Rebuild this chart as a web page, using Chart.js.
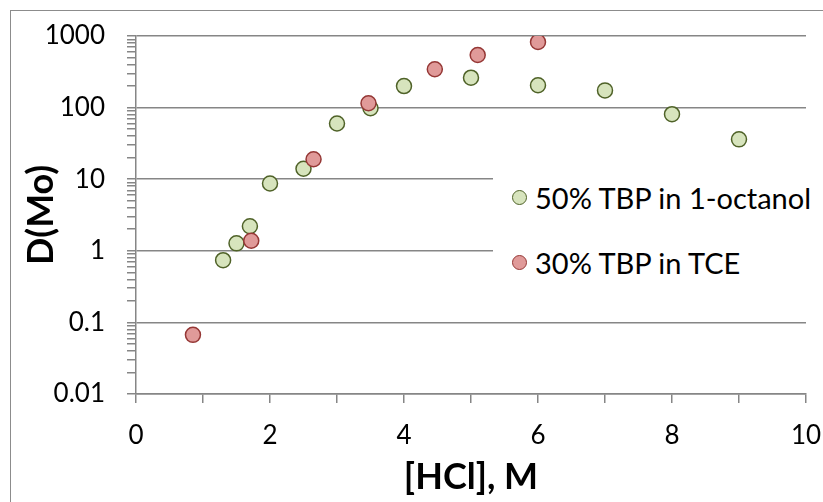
<!DOCTYPE html>
<html><head><meta charset="utf-8">
<script src="https://cdn.jsdelivr.net/npm/chart.js@4/dist/chart.umd.min.js"></script>
<style>
html,body{margin:0;padding:0;background:#fff;overflow:hidden;}
#wrap{position:relative;width:823px;height:502px;overflow:hidden;}
#frame{position:absolute;left:10px;top:10px;width:900px;height:600px;border:1.5px solid #8c8c8c;box-sizing:border-box;}
canvas{position:absolute;left:0;top:0;}
#legend{position:absolute;left:493px;top:170px;width:330px;height:115px;background:#fff;font-family:Lato,sans-serif;font-size:29px;color:#000;}
.item{position:absolute;left:0;height:34px;display:flex;align-items:center;white-space:nowrap;}
.dot{width:13px;height:13px;border-radius:50%;border:1.5px solid;margin-left:19px;margin-right:8px;}
</style></head>
<body><div id="wrap"><div id="frame"></div><canvas id="c" width="823" height="502"></canvas><div id="legend"></div></div>
<script>
// ---- data ----
const seriesNames = ['50% TBP in 1-octanol', '30% TBP in TCE'];
const hclOctanol = [1.3, 1.5, 1.7, 2.0, 2.5, 3.0, 3.5, 4.0, 5.0, 6.0, 7.0, 8.0, 9.0];
const dOctanol   = [0.74, 1.27, 2.2, 8.7, 14, 60, 98, 200, 262, 205, 174, 81, 36];
const hclTce     = [0.85, 1.72, 2.65, 3.47, 4.46, 5.1, 6.0];
const dTce       = [0.067, 1.38, 19, 115, 343, 543, 825];
const xTickLabels = ['0', '2', '4', '6', '8', '10'];
const yTickLabels = ['0.01', '0.1', '1', '10', '100', '1000'];

// ---- styles ----
const FONT = 'Lato';
const GRID = '#868686';
const colors = [
  {fill: '#d7e4bd', stroke: '#4f6228'},
  {fill: '#e09a99', stroke: '#953735'}
];

const yMajor = yTickLabels.map(Number);
const yAllTicks = [];
yMajor.forEach((m, i) => {
  if (i === yMajor.length - 1) { yAllTicks.push(m); return; }
  for (let k = 1; k <= 9; k++) yAllTicks.push(+(k * m).toPrecision(6));
});
const isMajor = v => Math.abs(Math.log10(v) - Math.round(Math.log10(v))) < 1e-9;
const xMin = Number(xTickLabels[0]), xMax = Number(xTickLabels[xTickLabels.length - 1]);

const toPts = (xs, ys) => xs.map((x, i) => ({x: x, y: ys[i]}));

Chart.defaults.font.family = FONT;
Chart.defaults.color = '#000';

new Chart(document.getElementById('c'), {
  type: 'scatter',
  data: {
    datasets: [
      {label: seriesNames[0], data: toPts(hclOctanol, dOctanol), order: 1,
       backgroundColor: colors[0].fill, borderColor: colors[0].stroke,
       pointRadius: 7.5, pointHoverRadius: 7.5, borderWidth: 1.5},
      {label: seriesNames[1], data: toPts(hclTce, dTce), order: 0,
       backgroundColor: colors[1].fill, borderColor: colors[1].stroke,
       pointRadius: 7.5, pointHoverRadius: 7.5, borderWidth: 1.5}
    ]
  },
  options: {
    responsive: false,
    animation: false,
    layout: {padding: {left: 0, top: 36, right: 17, bottom: 0}},
    plugins: {legend: {display: false}, tooltip: {enabled: false}},
    scales: {
      x: {
        type: 'linear', min: xMin, max: xMax,
        afterFit: s => { s.height = 108; s.paddingLeft = 0; s.paddingRight = 0; },
        ticks: {stepSize: 1, autoSkip: false, maxRotation: 0, padding: 17,
          font: {family: FONT, size: 26},
          callback: v => (xTickLabels.includes(String(v)) ? String(v) : '')},
        grid: {drawOnChartArea: false, drawTicks: true, tickLength: 9, color: GRID, lineWidth: 1.5},
        border: {color: GRID, width: 1.5},
        title: {display: true, text: '[HCl], M', color: '#000',
          font: {family: FONT, size: 36, weight: 'bold', lineHeight: 1},
          padding: {top: 0, bottom: 7}}
      },
      y: {
        type: 'logarithmic', min: yMajor[0], max: yMajor[yMajor.length - 1],
        afterFit: s => { s.width = 136; s.paddingTop = 0; s.paddingBottom = 0; },
        afterBuildTicks: s => { s.ticks = yAllTicks.map(v => ({value: v, major: isMajor(v)})); },
        ticks: {autoSkip: false, padding: 22, font: {family: FONT, size: 26},
          callback: v => isMajor(v) ? yTickLabels[yMajor.findIndex(m => Math.abs(m - v) < m * 1e-6)] : ''},
        grid: {drawOnChartArea: true, tickLength: 9, lineWidth: 1.5,
          color: c => (c.tick && isMajor(c.tick.value)) ? GRID : 'rgba(0,0,0,0)',
          tickColor: GRID},
        border: {color: GRID, width: 1.5},
        title: {display: true, text: 'D(Mo)', color: '#000',
          font: {family: FONT, size: 36, weight: 'bold', lineHeight: 1},
          padding: {top: 23, bottom: 0}}
      }
    }
  }
});

// ---- legend (HTML, inside the plot) ----
const legend = document.getElementById('legend');
seriesNames.forEach((name, i) => {
  const it = document.createElement('div');
  it.className = 'item';
  it.style.top = (10 + i * 65) + 'px';
  const dot = document.createElement('span');
  dot.className = 'dot';
  dot.style.background = colors[i].fill;
  dot.style.borderColor = colors[i].stroke;
  const t = document.createElement('span');
  t.textContent = name;
  it.appendChild(dot); it.appendChild(t);
  legend.appendChild(it);
});
</script>
</body></html>
